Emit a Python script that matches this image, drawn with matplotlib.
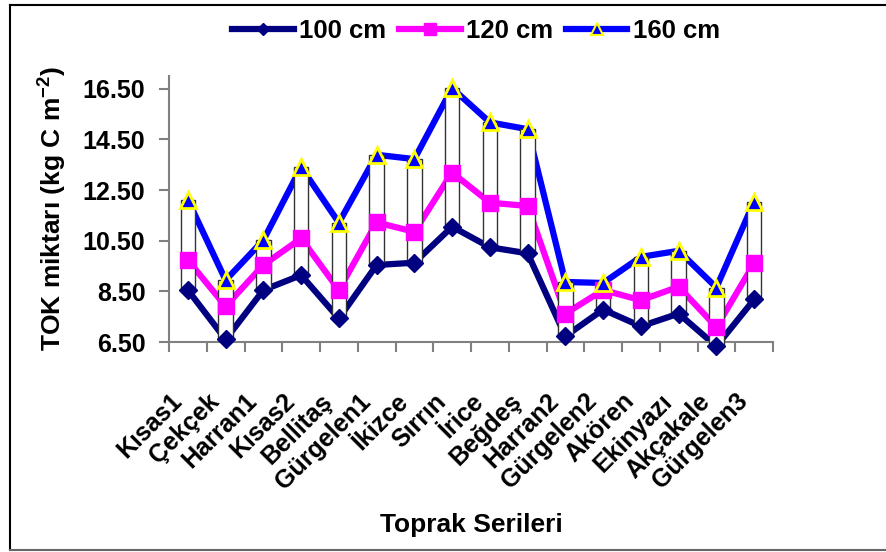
import matplotlib
matplotlib.use("Agg")
import matplotlib.pyplot as plt
from matplotlib.lines import Line2D
from matplotlib.transforms import ScaledTranslation
import numpy as np

plt.rcParams['font.family'] = ['Liberation Sans', 'DejaVu Sans']
plt.rcParams['font.weight'] = 'bold'
plt.rcParams['mathtext.fontset'] = 'custom'
plt.rcParams['mathtext.rm'] = 'Liberation Sans:bold'
plt.rcParams['mathtext.bf'] = 'Liberation Sans:bold'

series_names = ["Kısas1", "Çekçek", "Harran1", "Kısas2", "Bellitaş", "Gürgelen1",
                "İkizce", "Sırrın", "İrice", "Beğdeş", "Harran2", "Gürgelen2",
                "Akören", "Ekinyazı", "Akçakale", "Gürgelen3"]
depth_100 = [8.55, 6.60, 8.55, 9.14, 7.43, 9.54, 9.63, 11.05, 10.24, 10.00,
             6.73, 7.78, 7.12, 7.62, 6.33, 8.18]
depth_120 = [9.73, 7.91, 9.54, 10.59, 8.55, 11.22, 10.85, 13.19, 12.00, 11.87,
             7.62, 8.55, 8.15, 8.68, 7.09, 9.60]
depth_160 = [12.11, 8.94, 10.52, 13.40, 11.21, 13.89, 13.72, 16.52, 15.17, 14.90,
             8.87, 8.83, 9.86, 10.10, 8.65, 12.04]
y_ticks = [6.5, 8.5, 10.5, 12.5, 14.5, 16.5]

fig = plt.figure(figsize=(8.86, 5.52), dpi=100)
ax = fig.add_axes([169/886, 1-342/552, (773-169)/886, (342-76)/552])

x = np.arange(len(series_names))
low = np.array(depth_100)
high = np.array(depth_160)

# lines underneath, up/down bars over them, markers on top
ax.plot(x, depth_100, color='#000080', lw=4.5, zorder=2)
ax.plot(x, depth_120, color='#FF00FF', lw=4.5, zorder=2)
ax.plot(x, depth_160, color='#0000FF', lw=4.5, zorder=2)
ax.bar(x, high - low, bottom=low, width=0.38, color='white',
       edgecolor='#333333', lw=1.0, zorder=3, clip_on=False)
ax.plot(x, depth_100, ls='none', marker='D', ms=9, color='#000080',
        zorder=4, clip_on=False)
ax.plot(x, depth_120, ls='none', marker='s', ms=11, color='#FF00FF',
        zorder=4, clip_on=False)
ax.plot(x, depth_160, ls='none', marker='^', ms=11, color='#0000FF',
        markeredgecolor='#FFFF00', mew=2, zorder=5, clip_on=False)

ax.set_xlim(-0.5, len(series_names) - 0.5)
ax.set_ylim(6.5, 17.0)
ax.set_yticks(y_ticks)
ax.set_yticklabels([f"{v:.2f}" for v in y_ticks], fontsize=18, fontweight='bold')
ax.set_xticks(np.arange(len(series_names) + 1) - 0.5)
ax.set_xticklabels([])
ax.set_xticks(x, minor=True)
ax.set_xticklabels(series_names, minor=True, rotation=45, ha='right',
                   va='center', rotation_mode='anchor', fontsize=18,
                   fontweight='bold')
ax.tick_params(axis='x', which='minor', length=0, pad=40)
for lab in ax.get_xticklabels(minor=True):
    lab.set_transform(lab.get_transform() + ScaledTranslation(-10/100, 0, fig.dpi_scale_trans))
ax.tick_params(axis='x', which='major', length=7, width=1.5, color='#808080', direction='out')
ax.tick_params(axis='y', length=7, width=1.5, color='#808080', direction='out', pad=10)

for s in ['top', 'right']:
    ax.spines[s].set_visible(False)
for s in ['left', 'bottom']:
    ax.spines[s].set_color('#808080')
    ax.spines[s].set_linewidth(1.5)

fig.text(52/886, 1-208/552, r"TOK miktarı (kg C m$^{\mathbf{-2}}$)", rotation=90,
         ha='center', va='center', fontsize=19, fontweight='bold')
fig.text(471/886, 1-525/552, "Toprak Serileri", ha='center', va='center',
         fontsize=19, fontweight='bold')

handles = [
    Line2D([], [], color='#000080', lw=4.5, marker='D', ms=6),
    Line2D([], [], color='#FF00FF', lw=4.5, marker='s', ms=8),
    Line2D([], [], color='#0000FF', lw=4.5, marker='^', ms=9,
           markeredgecolor='#FFFF00', mew=1.5),
]
fig.legend(handles, ["100 cm", "120 cm", "160 cm"], loc='center',
           bbox_to_anchor=(476/886, 1-31/552), ncol=3, frameon=False,
           prop={'weight': 'bold', 'size': 18.5},
           handlelength=2.4, handletextpad=0.2, columnspacing=0.5)

# chart frame
fig.add_artist(Line2D([10/886, 10/886], [1-550/552, 1-5/552], color='black', lw=1.5,
                      transform=fig.transFigure))
fig.add_artist(Line2D([10/886, 1.0], [1-5/552, 1-5/552], color='black', lw=1.5,
                      transform=fig.transFigure))
fig.add_artist(Line2D([10/886, 1.0], [1-550/552, 1-550/552], color='#666666', lw=1.5,
                      transform=fig.transFigure))

fig.savefig("out.png", dpi=100)
